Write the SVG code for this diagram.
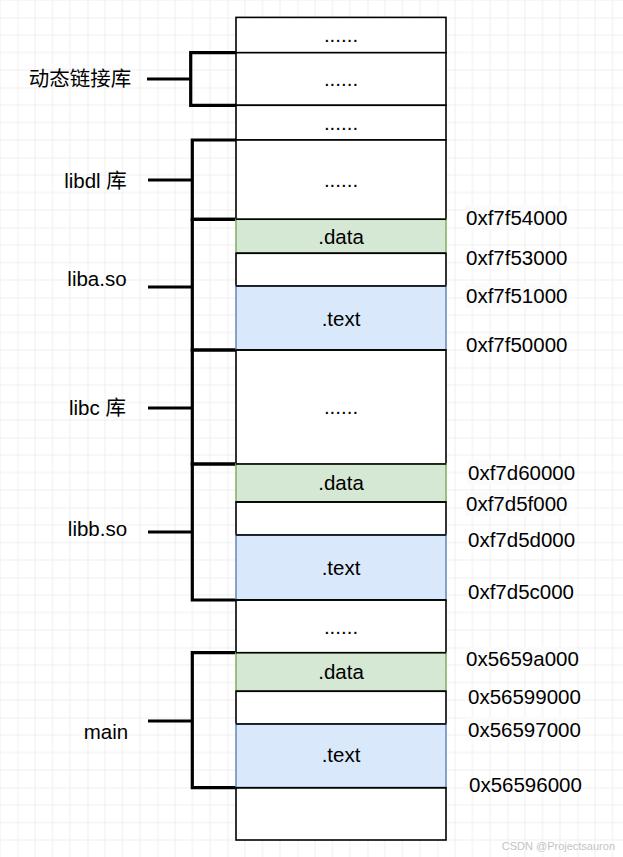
<svg xmlns="http://www.w3.org/2000/svg" width="623" height="857" viewBox="0 0 623 857">
<style>
.t{font-family:"Liberation Sans",Arial,"Noto Sans CJK SC",sans-serif;font-size:20.5px;fill:#000}
.c{text-anchor:middle}
.w{fill:#fff;stroke:#000;stroke-width:1.6}
.d{fill:#d5e8d4;stroke:#82b366;stroke-width:1.6}
.x{fill:#dae8fc;stroke:#6c8ebf;stroke-width:1.6}
.sep{stroke:#000;stroke-width:1.6;fill:none}
.br{fill:none;stroke:#000;stroke-width:3.2;stroke-linejoin:miter}
.bg{fill:#fbfbfb}
</style>
<defs>
<pattern id="grid" patternUnits="userSpaceOnUse" x="17.5" y="17.5" width="70" height="70">
<path d="M17.5 0V70M35 0V70M52.5 0V70M0 17.5H70M0 35H70M0 52.5H70" stroke="#efefef" stroke-width="1" fill="none"/>
<path d="M0 0V70M0 0H70" stroke="#e2e2e2" stroke-width="1" fill="none"/>
</pattern>
</defs>
<rect width="623" height="857" fill="#fff"/>
<rect width="623" height="857" fill="url(#grid)"/>

<g id="connectors">
<path class="br" d="M236 52.7H190.7V105.3H236M147 79H190.7"/>
<path class="br" d="M236 140H192.3V219.3H236M148 180H192.3"/>
<path class="br" d="M236 219.3H192.3V350H236M148 287H192.3"/>
<path class="br" d="M236 350H192.3V464H236M148 408H192.3"/>
<path class="br" d="M236 464H192.3V600H236M148 532H192.3"/>
<path class="br" d="M236 652.7H192.3V787.7H236M148 721H192.3"/>
</g>

<g id="block1"><rect class="w" x="236" y="17.4" width="210" height="35.3"/><text class="t c" x="341" y="42.3">......</text></g>
<g id="block2"><rect class="w" x="236" y="52.7" width="210" height="52.6"/><text class="t c" x="341" y="86.3">......</text></g>
<g id="block3"><rect class="w" x="236" y="105.3" width="210" height="34.7"/><text class="t c" x="341" y="130">......</text></g>
<g id="block4"><rect class="w" x="236" y="140" width="210" height="79.3"/><text class="t c" x="341" y="187">......</text></g>
<g id="liba-data"><rect class="d" x="236" y="219.3" width="210" height="34"/><text class="t c" x="341" y="243.6">.data</text></g>
<g id="liba-gap"><rect class="w" x="236" y="253.3" width="210" height="32.7"/></g>
<g id="liba-text"><rect class="x" x="236" y="286" width="210" height="64"/><text class="t c" x="341" y="325.5">.text</text></g>
<g id="block-libc"><rect class="w" x="236" y="350" width="210" height="114"/><text class="t c" x="341" y="414">......</text></g>
<g id="libb-data"><rect class="d" x="236" y="464" width="210" height="38"/><text class="t c" x="341" y="490.3">.data</text></g>
<g id="libb-gap"><rect class="w" x="236" y="502" width="210" height="33"/></g>
<g id="libb-text"><rect class="x" x="236" y="535" width="210" height="65"/><text class="t c" x="341" y="574.8">.text</text></g>
<g id="block-mid"><rect class="w" x="236" y="600" width="210" height="52.7"/><text class="t c" x="341" y="633.5">......</text></g>
<g id="main-data"><rect class="d" x="236" y="652.7" width="210" height="38.6"/><text class="t c" x="341" y="679.3">.data</text></g>
<g id="main-gap"><rect class="w" x="236" y="691.3" width="210" height="32.7"/></g>
<g id="main-text"><rect class="x" x="236" y="724" width="210" height="63.7"/><text class="t c" x="341" y="762">.text</text></g>
<g id="block-bottom"><rect class="w" x="236" y="787.7" width="210" height="52.3"/></g>
<path class="sep" d="M236 219.3H446M236 253.3H446M236 286H446M236 350H446M236 464H446M236 502H446M236 535H446M236 600H446M236 652.7H446M236 691.3H446M236 724H446M236 787.7H446"/>

<g id="label-dyn"><text class="t c" x="80" y="86">动态链接库</text></g>
<g id="label-libdl"><text class="t c" x="95.5" y="188">libdl 库</text></g>
<g id="label-liba"><text class="t c" x="97" y="286">liba.so</text></g>
<g id="label-libc"><text class="t c" x="97.5" y="415">libc 库</text></g>
<g id="label-libb"><text class="t c" x="97.5" y="536">libb.so</text></g>
<g id="label-main"><text class="t c" x="106" y="739">main</text></g>

<g id="addresses">
<rect class="bg" x="465" y="205" width="104" height="25"/>
<rect class="bg" x="465" y="283" width="104" height="25"/>
<rect class="bg" x="467" y="460" width="104" height="25"/>
<rect class="bg" x="465" y="492" width="104" height="24"/>
<rect class="bg" x="465" y="647" width="110" height="24"/>
<rect class="bg" x="467" y="717" width="110" height="24"/>
<text class="t" x="466" y="225">0xf7f54000</text>
<text class="t" x="466" y="265">0xf7f53000</text>
<text class="t" x="466" y="303">0xf7f51000</text>
<text class="t" x="466" y="351.7">0xf7f50000</text>
<text class="t" x="468" y="480">0xf7d60000</text>
<text class="t" x="466" y="511">0xf7d5f000</text>
<text class="t" x="468" y="547">0xf7d5d000</text>
<text class="t" x="468" y="599">0xf7d5c000</text>
<text class="t" x="466" y="666">0x5659a000</text>
<text class="t" x="468" y="704">0x56599000</text>
<text class="t" x="468" y="736.7">0x56597000</text>
<text class="t" x="469" y="791.7">0x56596000</text>
</g>
<text x="615" y="850" text-anchor="end" style="font-family:'Liberation Sans',Arial,sans-serif;font-size:11px;fill:#c4c4c4">CSDN @Projectsauron</text>
</svg>
